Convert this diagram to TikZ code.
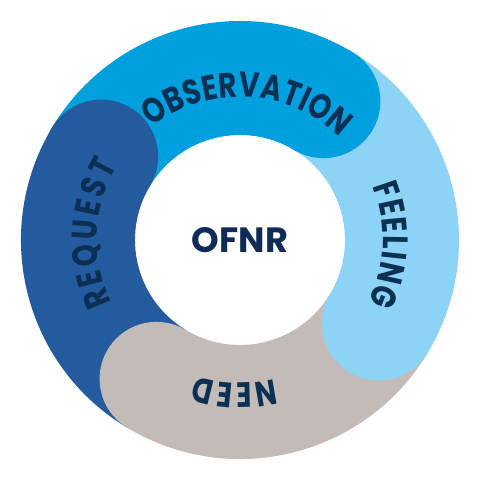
\documentclass[tikz,border=0pt]{standalone}
\usepackage{fontspec}
\newfontfamily\ringfont{Poppins}
\newfontfamily\labelfont{Poppins}[FakeStretch=0.8]
\usetikzlibrary{decorations.text}
\definecolor{obsblue}{RGB}{0,160,222}
\definecolor{feelblue}{RGB}{141,211,246}
\definecolor{needgrey}{RGB}{194,187,183}
\definecolor{reqblue}{RGB}{36,90,158}
\definecolor{labelnavy}{RGB}{10,48,84}
\definecolor{hubnavy}{RGB}{14,44,86}
% ring sizes
\newcommand{\ringout}{5.475cm}
\newcommand{\ringin}{2.625cm}
\newcommand{\ringmid}{4.05cm}
\newcommand{\ringcap}{1.425cm}
\newcommand{\ringtxt}{3.575cm}
\tikzstyle{hub} = [text=hubnavy, font=\ringfont\bfseries\fontsize{25}{25}\selectfont]
\tikzset{
    ringtext/.style={
        decorate,
        decoration={text along path, text align=fit to path,
          text={|\labelfont\bfseries\fontsize{25}{25}\selectfont\color{labelnavy}|#1}}}}
% band from #1 to #2 (clockwise), colour #3
\newcommand{\ringband}[3]{%
  \fill[#3] (#1:\ringout) arc[start angle=#1, end angle=#2, radius=\ringout]
    -- (#2:\ringin) arc[start angle=#2, end angle=#1, radius=\ringin] -- cycle;}
% rounded head of a band
\newcommand{\ringhead}[2]{%
  \fill[#2] (#1:\ringmid) circle[radius=\ringcap];}
% curved label from #1 to #2
\newcommand{\ringlabel}[3]{%
  \path[ringtext={#3}] (#1:\ringtxt) arc[start angle=#1, end angle=#2, radius=\ringtxt];}

\begin{document}
\begin{tikzpicture}
\useasboundingbox (-6,-6) rectangle (6,6);
% Draw the bands
\ringband{149}{59}{obsblue}
\ringband{59}{-31}{feelblue}
\ringband{-31}{-121}{needgrey}
\ringband{-121}{-211}{reqblue}

% Draw the heads on top
\ringhead{59}{obsblue}
\ringhead{-31}{feelblue}
\ringhead{-121}{needgrey}
\ringhead{149}{reqblue}

% Labels
\ringlabel{128}{46}{OBSERVATION}
\ringlabel{22}{-26}{FEELING}
\ringlabel{-76}{-108}{NEED}
\ringlabel{206}{149}{REQUEST}
\node (ofnr) [hub] at (0,0) {OFNR};
\end{tikzpicture}
\end{document}
